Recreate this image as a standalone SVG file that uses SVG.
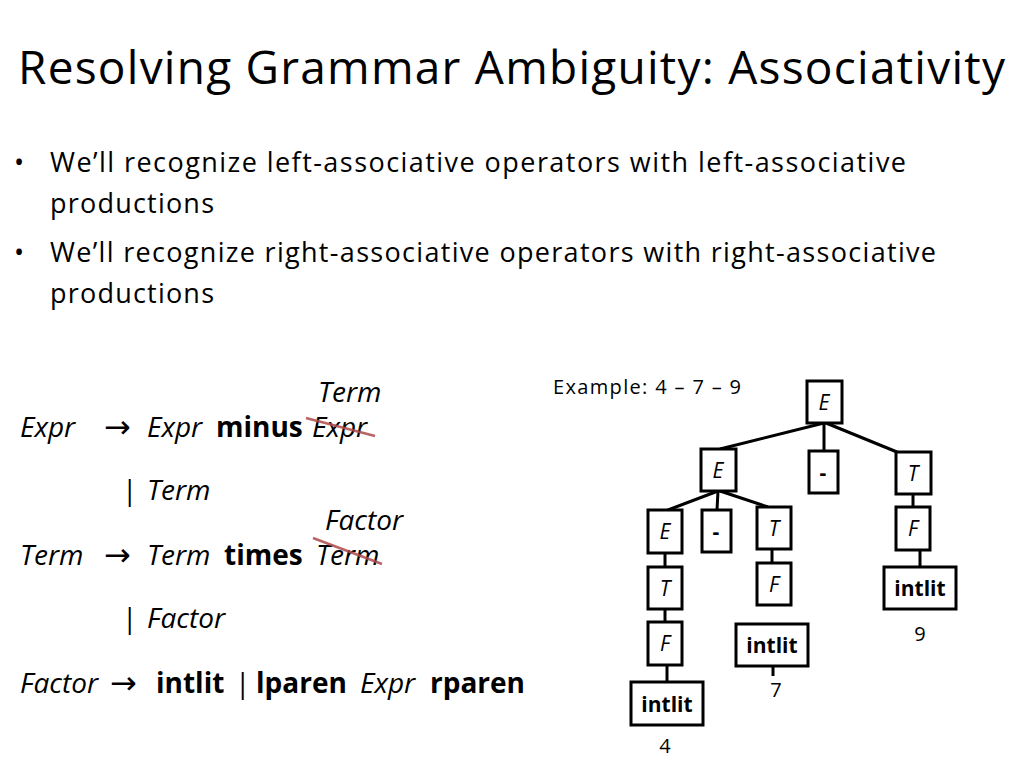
<svg xmlns="http://www.w3.org/2000/svg" width="1024" height="768" viewBox="0 0 1024 768">
<style>
text{font-family:"Open Sans","Noto Sans","Liberation Sans",sans-serif;fill:#000}
.b{font-size:27px}
.g{font-size:28px}
.i{font-style:italic}
.bd{font-weight:bold}
.ar{font-family:"DejaVu Sans",sans-serif;font-size:32px}
.n rect{fill:#fff;stroke:#000;stroke-width:3}
.n text{font-size:21px;text-anchor:middle}
.e line{stroke:#000;stroke-width:3}
.s{stroke:#b04a4a;stroke-width:2.5;opacity:0.85}
</style>
<rect width="1024" height="768" fill="#fff"/>
<text x="18" y="84" font-size="46" textLength="987">Resolving Grammar Ambiguity: Associativity</text>
<text class="b" x="14" y="172">•</text>
<text class="b" x="50" y="172" textLength="856">We’ll recognize left-associative operators  with left-associative</text>
<text class="b" x="50" y="213" textLength="164">productions</text>
<text class="b" x="14" y="262">•</text>
<text class="b" x="50" y="262" textLength="886">We’ll recognize right-associative operators with right-associative</text>
<text class="b" x="50" y="303" textLength="164">productions</text>

<text class="g i" x="318" y="402">Term</text>
<text class="g i" x="20" y="437">Expr</text>
<text class="ar" x="104" y="438">→</text>
<text class="g" y="437"><tspan class="i" x="147">Expr</tspan><tspan class="bd" x="216">minus</tspan><tspan class="i" x="312">Expr</tspan></text>
<line class="s" x1="306" y1="418" x2="375" y2="436"/>
<text class="g" x="122" y="500">| <tspan class="i" x="147">Term</tspan></text>
<text class="g i" x="325" y="530">Factor</text>
<text class="g i" x="20" y="565">Term</text>
<text class="ar" x="104" y="566">→</text>
<text class="g" y="565"><tspan class="i" x="147">Term</tspan><tspan class="bd" x="224">times</tspan><tspan class="i" x="316">Term</tspan></text>
<line class="s" x1="313" y1="538" x2="382" y2="564"/>
<text class="g" x="122" y="628">| <tspan class="i" x="147">Factor</tspan></text>
<text class="g i" x="20" y="693">Factor</text>
<text class="ar" x="110" y="694">→</text>
<text class="g" y="693"><tspan class="bd" x="156">intlit</tspan><tspan x="235">|</tspan><tspan class="bd" x="256">lparen</tspan><tspan class="i" x="360">Expr</tspan><tspan class="bd" x="430">rparen</tspan></text>

<text x="553" y="394" font-size="20" textLength="188">Example: 4 – 7 – 9</text>

<g class="e" id="connectors">
<line x1="824" y1="423" x2="720" y2="449"/>
<line x1="824" y1="423" x2="824" y2="451"/>
<line x1="826" y1="423" x2="897" y2="452"/>
<line x1="718" y1="491" x2="668" y2="510"/>
<line x1="718" y1="491" x2="717" y2="510"/>
<line x1="720" y1="491" x2="768" y2="507"/>
<line x1="913" y1="494" x2="913" y2="507"/>
<line x1="665" y1="553" x2="665" y2="567"/>
<line x1="665" y1="609" x2="665" y2="622"/>
<line x1="667" y1="665" x2="667" y2="682"/>
<line x1="772" y1="549" x2="772" y2="563"/>
<line x1="920" y1="550" x2="920" y2="567"/>
<line x1="773" y1="666" x2="773" y2="676"/>
</g>
<g class="n" id="n_root"><rect x="807" y="381" width="35" height="42"/><text x="824" y="410" font-style="italic">E</text></g>
<g class="n" id="n_e2"><rect x="701" y="449" width="35" height="42"/><text x="718" y="478" font-style="italic">E</text></g>
<g class="n" id="n_m2"><rect x="809" y="451" width="29" height="42"/><text x="823" y="480" font-weight="bold">-</text></g>
<g class="n" id="n_t2"><rect x="896" y="452" width="35" height="42"/><text x="913" y="481" font-style="italic">T</text></g>
<g class="n" id="n_e3"><rect x="648" y="510" width="34" height="43"/><text x="665" y="539" font-style="italic">E</text></g>
<g class="n" id="n_m3"><rect x="702" y="510" width="29" height="42"/><text x="716" y="539" font-weight="bold">-</text></g>
<g class="n" id="n_t3"><rect x="757" y="507" width="34" height="42"/><text x="774" y="536" font-style="italic">T</text></g>
<g class="n" id="n_f9"><rect x="896" y="507" width="34" height="43"/><text x="913" y="536" font-style="italic">F</text></g>
<g class="n" id="n_t4"><rect x="648" y="567" width="34" height="42"/><text x="665" y="596" font-style="italic">T</text></g>
<g class="n" id="n_f7"><rect x="757" y="563" width="34" height="42"/><text x="774" y="592" font-style="italic">F</text></g>
<g class="n" id="n_i9"><rect x="884" y="567" width="72" height="42"/><text x="920" y="596" font-weight="bold">intlit</text></g>
<g class="n" id="n_f4"><rect x="648" y="622" width="34" height="43"/><text x="665" y="651" font-style="italic">F</text></g>
<g class="n" id="n_i7"><rect x="736" y="624" width="72" height="42"/><text x="772" y="653" font-weight="bold">intlit</text></g>
<g class="n" id="n_i4"><rect x="631" y="682" width="72" height="43"/><text x="667" y="712" font-weight="bold">intlit</text></g>
<text x="920" y="641" font-size="20" text-anchor="middle">9</text>
<text x="776" y="697" font-size="20" text-anchor="middle">7</text>
<text x="665" y="753" font-size="20" text-anchor="middle">4</text>
</svg>
